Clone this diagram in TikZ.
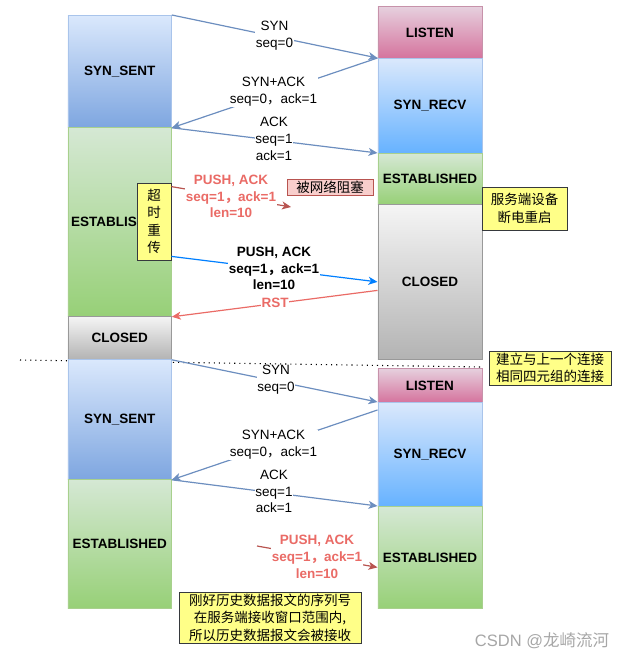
\documentclass[tikz,border=0pt]{standalone}
\usepackage{fontspec}
\setmainfont{Liberation Sans}
\newfontfamily\cjkfont{Noto Sans CJK SC}
\usepackage{tikz}
\usetikzlibrary{arrows.meta}
\definecolor{blueTop}{HTML}{DAE8FC}
\definecolor{sentBot}{HTML}{7EA6E0}
\definecolor{recvBot}{HTML}{66B2FF}
\definecolor{blueLine}{HTML}{A9C4EB}
\definecolor{greenTop}{HTML}{D5E8D4}
\definecolor{greenBot}{HTML}{97D077}
\definecolor{greenLine}{HTML}{A8D08D}
\definecolor{grayTop}{HTML}{F5F5F5}
\definecolor{grayBot}{HTML}{B3B3B3}
\definecolor{grayLine}{HTML}{999999}
\definecolor{pinkTop}{HTML}{E6D0DE}
\definecolor{pinkBot}{HTML}{D5739D}
\definecolor{pinkLine}{HTML}{C792AA}
\definecolor{msgBlue}{HTML}{6C8EBF}
\definecolor{pushBlue}{HTML}{007FFF}
\definecolor{lostRed}{HTML}{B85450}
\definecolor{textRed}{HTML}{EA6B66}
\definecolor{noteYellow}{HTML}{FFFF88}
\definecolor{noteLine}{HTML}{36393D}
\definecolor{jamFill}{HTML}{F8CECC}
\newcommand{\fwc}{{\cjkfont ，}}

\begin{document}
\begin{tikzpicture}[x=1pt, y=-1pt,
    state/.style={draw, line width=0.8pt, inner sep=0pt, anchor=north west,
        font=\fontsize{13.5}{16}\selectfont\bfseries},
    sent/.style={state, top color=blueTop, bottom color=sentBot, draw=blueLine},
    recv/.style={state, top color=blueTop, bottom color=recvBot, draw=blueLine},
    estab/.style={state, top color=greenTop, bottom color=greenBot, draw=greenLine},
    closed/.style={state, top color=grayTop, bottom color=grayBot, draw=grayLine},
    listen/.style={state, top color=pinkTop, bottom color=pinkBot, draw=pinkLine},
    msg/.style={draw=msgBlue, line width=1.2pt, -{Stealth[length=9pt,width=8pt,inset=2.5pt]}},
    lbl/.style={fill=white, inner sep=0.5pt, align=center, font=\fontsize{13.5}{16.8}\selectfont},
    redlbl/.style={lbl, text=textRed, font=\fontsize{13.5}{16.8}\selectfont\bfseries},
    note/.style={draw=noteLine, fill=noteYellow, line width=0.8pt, inner sep=0pt, align=center,
        font=\cjkfont\fontsize{13.5}{17.5}\selectfont}]

    \useasboundingbox (0,0) rectangle (626,660);

    % separator between the two connections
    \coordinate (sepL) at (20,360);
    \coordinate (sepR) at (482,367);
    \draw[line width=1.1pt, dash pattern=on 1.1pt off 4pt] (sepL) -- (sepR);

    % client side
    \node[sent, minimum width=103.5pt, minimum height=112pt] (sent1) at (67.5,15) {SYN\_SENT};
    \node[estab, minimum width=103.5pt, minimum height=189pt] (est1l) at (67.5,127) {};
    \node[anchor=east, inner sep=0pt, font=\fontsize{13.5}{16}\selectfont\bfseries] (est1ltxt) at (137,222) {ESTABLIS};
    \node[closed, minimum width=103.5pt, minimum height=43pt] (closed1l) at (67.5,316) {CLOSED};
    \node[sent, minimum width=103.5pt, minimum height=120pt] (sent2) at (67.5,359) {SYN\_SENT};
    \node[estab, minimum width=103.5pt, minimum height=129pt] (est2l) at (67.5,479) {ESTABLISHED};

    % server side
    \node[listen, minimum width=104pt, minimum height=52pt] (listen1) at (377.5,6) {LISTEN};
    \node[recv, minimum width=104pt, minimum height=95pt] (recv1) at (377.5,58) {SYN\_RECV};
    \node[estab, minimum width=104pt, minimum height=51pt] (est1r) at (377.5,153) {ESTABLISHED};
    \node[closed, minimum width=104pt, minimum height=155pt] (closed1r) at (377.5,204) {CLOSED};
    \node[listen, minimum width=104pt, minimum height=34pt] (listen2) at (377.5,368) {LISTEN};
    \node[recv, minimum width=104pt, minimum height=104pt] (recv2) at (377.5,402) {SYN\_RECV};
    \node[estab, minimum width=104pt, minimum height=102pt] (est2r) at (377.5,506) {ESTABLISHED};

    % retransmit note sits on the client bar
    \node[note, minimum width=34pt, minimum height=77pt] (retx) at (154,221.5) {超\\时\\重\\传};

    % first connection
    \coordinate (jam) at (291,207);
    \draw[msg] (sent1.north east) -- (recv1.north west);
    \draw[msg] (recv1.north west) -- (sent1.south east);
    \draw[msg] (sent1.south east) -- (est1r.north west);
    \draw[msg, draw=lostRed] ([yshift=-4pt]retx.north east) -- (jam);
    \draw[msg, draw=pushBlue] ([yshift=4pt]retx.south east) -- (closed1r.west);
    \draw[msg, draw=textRed] ([yshift=-8.5pt]closed1r.west) -- (est1l.south east);

    % second connection
    \coordinate (hist) at (257,546);
    \draw[msg] (closed1l.south east) -- (recv2.north west);
    \draw[msg] ([yshift=-8pt]recv2.north west) -- (sent2.south east);
    \draw[msg] (sent2.south east) -- (est2r.north west);
    \draw[msg, draw=lostRed] (hist) -- ([yshift=-10pt]est2r.west);

    % labels
    \node[lbl] (lsyn1) at (274.5,35.5) {SYN\\seq=0};
    \node[lbl] (lsynack1) at (273.5,91.5) {SYN+ACK\\seq=0\fwc ack=1};
    \node[lbl] (lack1) at (274,139) {ACK\\seq=1\\ack=1};
    \node[redlbl] (lpush1) at (231,196.5) {PUSH, ACK\\seq=1\fwc ack=1\\len=10};
    \node[lbl, font=\fontsize{13.5}{16.8}\selectfont\bfseries] (lpush2) at (274,268.5) {PUSH, ACK\\seq=1\fwc ack=1\\len=10};
    \node[redlbl] (lrst) at (275,303) {RST};
    \node[lbl] (lsyn2) at (276,380) {SYN\\seq=0};
    \node[lbl] (lsynack2) at (273.5,445) {SYN+ACK\\seq=0\fwc ack=1};
    \node[lbl] (lack2) at (274,491.5) {ACK\\seq=1\\ack=1};
    \node[redlbl] (lpush3) at (317,557) {PUSH, ACK\\seq=1\fwc ack=1\\len=10};

    % notes
    \node[note, fill=jamFill, draw=lostRed, minimum width=86pt, minimum height=16pt] (jamnote) at (330,187) {被网络阻塞};
    \node[note, minimum width=85pt, minimum height=43pt] (reboot) at (524.5,208.5) {服务端设备\\断电重启};
    \node[note, minimum width=122pt, minimum height=34pt] (same4) at (550,368) {建立与上一个连接\\相同四元组的连接};
    \node[note, minimum width=182pt, minimum height=51pt] (inwin) at (270,617.5) {刚好历史数据报文的序列号\\在服务端接收窗口范围内,\\所以历史数据报文会被接收};

    \node[text=black!35, font=\fontsize{16.5}{18}\selectfont] (wm) at (542,641) {CSDN @{\cjkfont 龙崎流河}};
\end{tikzpicture}
\end{document}
